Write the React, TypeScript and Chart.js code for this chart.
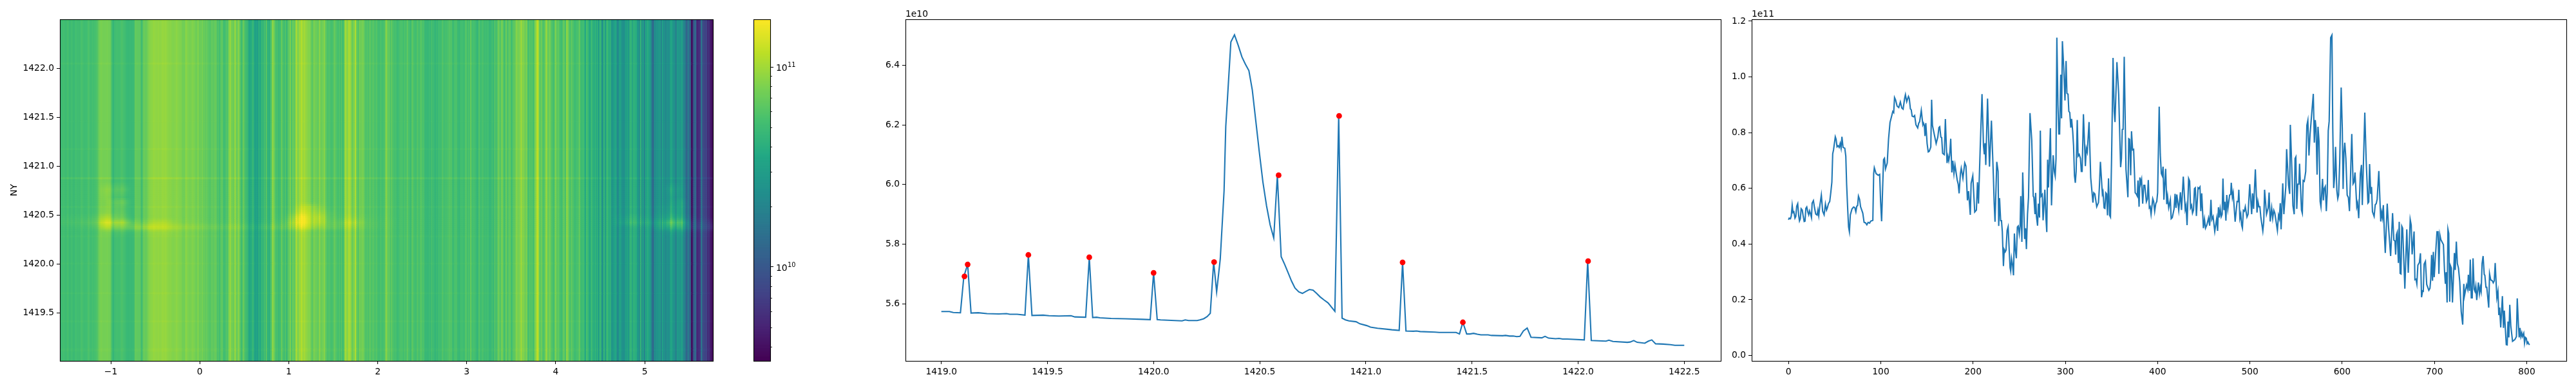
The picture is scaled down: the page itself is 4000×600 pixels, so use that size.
import React, { useEffect, useRef } from "react";
import { Chart, registerables } from "chart.js";

Chart.register(...registerables);

// Slice along the heatmap's columns: [column index, value in 1e11]
const columnProfile: number[][] = [
  [0,.487],[.7,.493],[2.1,.491],[3,.501],[4,.539],[4.9,.513],[5.8,.516],[7,.493],[7.9,.499],[8.9,.536],[10,.545],[11,.503],[11.9,.483],[12.8,.491],[13.7,.527],[14.9,.522],[15.8,.503],[17,.481],[17.9,.482],[18.8,.528],[19.8,.533],[21,.514],[21.9,.505],[22.8,.519],[24,.507],[24.9,.495],[25.6,.547],[27,.556],[28.2,.53],[29.5,.508],[31,.504],[31.9,.522],[32.8,.502],[34,.539],[35.6,.576],[37,.518],[38.6,.505],[40,.544],[41.2,.522],[42.1,.53],[43.3,.545],[44.7,.553],[45.8,.584],[47,.622],[47.9,.724],[48.8,.738],[50.7,.785],[51.6,.776],[52.6,.749],[53.7,.753],[54.9,.747],[56,.761],[57,.744],[57.9,.785],[59.1,.747],[61,.744],[62.1,.715],[63,.614],[64.2,.522],[65.1,.461],[66,.444],[67,.505],[68.8,.526],[70.5,.533],[71.9,.531],[73,.516],[74,.536],[74.9,.538],[75.8,.572],[77,.561],[78.1,.534],[80.5,.511],[81.9,.478],[83.5,.476],[84.9,.469],[86.3,.478],[87.9,.475],[89,.482],[91.4,.485],[92.3,.653],[93,.674],[94.9,.653],[97.2,.647],[98.8,.65],[99.8,.553],[100.9,.482],[102,.599],[103,.703],[104,.708],[105.1,.67],[107,.691],[108.4,.776],[110,.836],[111.9,.861],[113,.876],[114,.872],[114.9,.926],[116,.918],[117.7,.895],[119.5,.89],[121.2,.91],[122.8,.888],[124.2,.884],[125.8,.922],[126.7,.936],[128.1,.911],[130,.93],[130.9,.922],[132.1,.885],[133,.882],[134,.859],[135.6,.857],[136.7,.861],[138.1,.828],[140,.817],[141.1,.834],[142.1,.839],[143.9,.88],[145.6,.828],[146.3,.834],[147.2,.826],[147.9,.788],[148.8,.834],[150.2,.761],[151.4,.731],[152.5,.733],[154.2,.748],[155.1,.918],[156,.826],[158.3,.788],[160,.761],[161.8,.784],[163,.818],[163.9,.821],[165.1,.784],[166,.782],[167,.726],[168.8,.721],[170,.849],[171.1,.745],[171.8,.691],[172.8,.715],[173.7,.699],[174.6,.718],[175.8,.778],[177,.657],[178.1,.699],[179.3,.653],[180.4,.684],[182.8,.63],[183.9,.615],[184.9,.582],[186.3,.653],[187.2,.672],[189,.636],[191,.691],[192.3,.68],[193.9,.557],[195.1,.59],[197,.505],
  [197.9,.618],[199.7,.645],[201.8,.515],[203.6,.522],[204.8,.622],[205.9,.545],[207.6,.73],[209.7,.938],[211.3,.753],[212.2,.722],[212.9,.762],[213.8,.684],[215.7,.922],[217.8,.678],[219.9,.843],[222,.645],[222.9,.545],[223.8,.48],[225.7,.695],[227.1,.661],[227.8,.465],[228.7,.565],[229.9,.484],[230.8,.484],[231.7,.445],[232.9,.321],[233.8,.38],[234.8,.372],[235.7,.378],[236.9,.449],[238,.462],[239.2,.376],[240.1,.315],[240.8,.303],[241.7,.348],[242.9,.322],[243.8,.288],[244.8,.438],[245.7,.384],[246.9,.349],[248,.461],[249,.465],[250.1,.436],[251,.465],[251.7,.572],[252.9,.408],[253.8,.657],[255.9,.418],[256.9,.457],[257.8,.382],[259,.507],[260.1,.568],[261.7,.87],[263.6,.772],[265.2,.572],[265.9,.568],[267.1,.507],[267.8,.584],[268.7,.499],[269.9,.466],[270.8,.545],[272,.495],[272.9,.807],[273.8,.572],[275,.578],[275.9,.485],[277.8,.595],[279,.492],[279.9,.443],[280.8,.703],[281.7,.603],[283.8,.816],[285,.539],[286.8,.719],[288,.661],[289,.644],[289.9,.707],[290.8,1.141],[292,.899],[292.9,.795],[293.8,.795],[295,1.008],[295.9,.851],[296.8,1.128],[298.2,1.037],[299.6,.915],[300.8,1.057],[301.7,.941],[302.9,.938],[303.8,.876],[304.8,.872],[305.9,.818],[306.8,.849],[308,.803],[308.9,.753],[309.9,.645],[310.8,.62],[311.7,.661],[312.9,.845],[313.8,.716],[315,.722],[316.4,.707],[317.3,.661],[318.2,.661],[319.6,.866],[321.7,.68],[322.7,.744],[323.8,.73],[325.7,.838],[327.5,.638],[329.9,.549],[330.8,.584],[332,.58],[334,.534],[335.9,.549],[336.8,.599],[338,.695],[340.1,.58],[340.8,.588],[342,.53],[342.9,.528],[343.8,.584],[344.7,.58],[345.7,.503],[346.8,.636],[348,.503],[348.9,.497],[350.1,.707],[351.7,1.068],[352.9,.876],[353.8,.838],[355.9,1.053],[357.8,.938],[359.9,.676],[360.8,.707],[361.7,.811],[362.6,.812],[363.8,1.072],[365.7,.668],[367.8,.568],[368.7,.778],[369.6,.776],[370.8,.647],[371.7,.805],[372.9,.738],[374,.74],[375.7,.584],[376.8,.58],[378,.572],[378.7,.628],[379.9,.534],[380.8,.639],[381.5,.616],[382.6,.632],[383.8,.545],[385,.611],[386.1,.611],[387.8,.552],[388.9,.561],[389.9,.63],[391,.53],[391.9,.534],[392.9,.507],[394.7,.563],[395.7,.553],[396.8,.518],[398,.545],[399.1,.553],[400,.584],[401.7,.893],[402.9,.722],[404,.653],[405,.645],
  [405.9,.678],[406.8,.559],[408.7,.67],[409.9,.543],[410.8,.571],[412,.53],[413.8,.559],[414.7,.491],[415.9,.495],[417.8,.526],[418.9,.58],[419.9,.53],[420.8,.578],[422.9,.521],[424.7,.586],[425.9,.522],[427.8,.642],[429.9,.524],[430.8,.538],[431.9,.468],[433.6,.635],[434.7,.626],[435.7,.53],[436.8,.539],[437.8,.511],[438.9,.522],[439.9,.599],[440.8,.602],[442,.501],[443.8,.602],[444.7,.599],[445.9,.605],[446.8,.518],[447.8,.582],[449.6,.457],[450.8,.489],[451.9,.457],[453.3,.468],[455.2,.494],[456.4,.466],[457.8,.559],[458.7,.488],[460.1,.499],[461.9,.445],[464,.492],[465,.447],[465.9,.532],[466.8,.495],[467.8,.526],[468.9,.498],[469.9,.507],[470.8,.635],[471.9,.522],[472.9,.552],[474,.484],[474.9,.576],[476.1,.526],[478,.576],[479.2,.578],[479.8,.62],[481,.568],[481.9,.584],[484,.48],[486.1,.553],[487.3,.552],[488,.595],[489.1,.492],[490.1,.507],[491,.468],[491.9,.457],[492.9,.521],[494,.518],[495,.534],[496.8,.497],[498,.507],[499.8,.615],[501.9,.507],[502.9,.582],[504,.526],[505.9,.668],[507.7,.513],[508.7,.553],[509.8,.534],[510.8,.534],[511.9,.495],[514,.447],[515,.48],[515.9,.595],[518,.507],[519.8,.53],[520.8,.585],[522,.481],[523.6,.53],[524.7,.492],[525.9,.521],[527,.511],[529.8,.449],[531,.503],[531.9,.492],[532.9,.547],[533.8,.453],[535.6,.618],[536.8,.507],[538.9,.607],[539.8,.741],[541.9,.611],[543.1,.58],[543.8,.828],[545.4,.676],[546.6,.538],[548,.507],[548.9,.707],[549.8,.713],[550.8,.526],[551.9,.615],[553.1,.615],[553.8,.688],[555.9,.522],[556.8,.511],[557.7,.628],[558.9,.625],[560.5,.661],[561.7,.826],[562.8,.844],[564,.718],[565.2,.795],[568.7,.939],[569.8,.764],[570.8,.845],[571.7,.814],[572.8,.649],[573.8,.821],[574.9,.768],[576.1,.553],[577,.534],[578.7,.634],[579.6,.557],[580.5,.599],[581.7,.607],[582.8,.518],[583.8,.584],[584.9,.807],[585.9,.841],[587.5,1.141],[588.9,1.15],[589.8,.814],[590.8,.601],[591.9,.645],[592.8,.749],[594.2,.592],[595.2,.563],[596.1,.576],[597.3,.691],[598.9,.962],[600.1,.814],[601,.598],[601.9,.73],[602.8,.764],[604,.707],[605.4,.576],
  [606.7,.567],[607.9,.518],[610.4,.795],[611.8,.616],[612.8,.622],[613.9,.657],[615.8,.534],[616.7,.547],[617.9,.493],[619.7,.653],[620.9,.684],[621.8,.54],[624.5,.872],[626,.7],[627.9,.547],[628.8,.551],[629.7,.687],[630.9,.58],[631.8,.605],[632.8,.516],[634.6,.499],[635.8,.541],[636.9,.545],[637.9,.561],[639.7,.662],[641.8,.481],[642.8,.514],[643.7,.495],[644.6,.54],[645.8,.43],[646.7,.368],[648.8,.545],[650.4,.453],[652.5,.357],[654.6,.511],[656,.414],[657.2,.411],[657.9,.362],[658.8,.434],[659.7,.443],[660.9,.332],[661.8,.48],[662.8,.295],[663.7,.293],[664.6,.464],[665.5,.457],[667.9,.24],[670,.453],[671.6,.297],[673.7,.488],[674.8,.468],[675.8,.363],[677.9,.445],[678.8,.272],[680,.274],[680.9,.257],[682,.324],[683.7,.334],[684.8,.367],[686,.209],[687.2,.232],[687.9,.231],[688.8,.328],[690.2,.338],[691.6,.255],[693.9,.234],[695.1,.241],[696,.276],[696.9,.361],[697.9,.268],[698.8,.372],[699.7,.281],[702.7,.444],[703.9,.444],[704.8,.293],[705.8,.434],[706.9,.416],[709.7,.398],[710.9,.303],[711.8,.257],[712.7,.299],[713.7,.19],[714.6,.453],[715.5,.438],[716.5,.193],[717.4,.322],[718.3,.314],[719.5,.19],[721.6,.368],[722.5,.307],[723.7,.409],[724.8,.33],[726,.314],[727.4,.265],[729,.157],[730.6,.111],[731.8,.257],[732.5,.214],[734.8,.253],[736,.238],[736.7,.29],[737.9,.232],[738.8,.344],[739.9,.207],[740.9,.207],[741.8,.349],[743,.238],[743.9,.23],[744.8,.249],[745.8,.199],[747.6,.262],[748.8,.222],[749.7,.245],[750.6,.23],[751.6,.33],[752.7,.357],[753.9,.291],[754.6,.288],[755.8,.245],[756.7,.245],[758.8,.172],[759.7,.293],[760.9,.272],[762.7,.268],[763.7,.261],[764.8,.268],[765.8,.332],[767.6,.207],[768.8,.23],[769.7,.145],[770.6,.172],[771.8,.101],[773.6,.213],[774.8,.099],[775.7,.161],[777.8,.039],[778.8,.038],[779.7,.122],[780.6,.065],[781.6,.182],[782.7,.107],[784.6,.051],[787.1,.057],[788.8,.068],[789.7,.205],[790.9,.115],[791.8,.065],[792.7,.099],[793.6,.068],[794.6,.081],[795.3,.068],[796.7,.08],[797.6,.045],[798.5,.065],[799.5,.062],[800.4,.043],[801.3,.048],[802.3,.041],[803,.038],
];

// Slice along the heatmap's rows: [NY, value in 1e10]
const rowProfile: number[][] = [
  [1419,5.574],[1419.038,5.574],[1419.056,5.571],[1419.09,5.57],[1419.106,5.692],[1419.124,5.732],[1419.14,5.569],[1419.174,5.57],[1419.215,5.567],[1419.27,5.566],[1419.307,5.567],[1419.323,5.565],[1419.357,5.565],[1419.394,5.562],[1419.41,5.764],[1419.427,5.561],[1419.48,5.562],[1419.507,5.56],[1419.554,5.559],[1419.611,5.56],[1419.629,5.556],[1419.68,5.555],[1419.697,5.755],[1419.713,5.554],[1419.731,5.555],[1419.747,5.553],[1419.8,5.551],[1419.867,5.55],[1419.948,5.548],[1419.984,5.547],[1420,5.704],[1420.017,5.547],[1420.033,5.546],[1420.1,5.544],[1420.134,5.543],[1420.149,5.546],[1420.165,5.544],[1420.205,5.544],[1420.218,5.546],[1420.236,5.55],[1420.252,5.557],[1420.267,5.568],[1420.283,5.74],[1420.297,5.64],[1420.314,5.75],[1420.332,5.979],[1420.34,6.195],[1420.348,6.288],[1420.364,6.478],[1420.381,6.502],[1420.398,6.468],[1420.416,6.428],[1420.432,6.404],[1420.449,6.382],[1420.465,6.317],[1420.481,6.216],[1420.498,6.109],[1420.515,6.008],[1420.532,5.929],[1420.549,5.865],[1420.566,5.821],[1420.583,6.03],[1420.601,5.758],[1420.617,5.733],[1420.634,5.704],[1420.65,5.676],[1420.666,5.653],[1420.684,5.64],[1420.701,5.635],[1420.718,5.642],[1420.734,5.648],[1420.751,5.646],[1420.768,5.635],[1420.785,5.623],[1420.803,5.613],[1420.822,5.603],[1420.854,5.575],[1420.872,6.23],[1420.888,5.552],[1420.904,5.546],[1420.92,5.543],[1420.954,5.54],[1420.972,5.533],[1421.004,5.527],[1421.022,5.522],[1421.055,5.518],[1421.11,5.514],[1421.123,5.513],[1421.157,5.511],[1421.173,5.739],[1421.189,5.509],[1421.224,5.508],[1421.239,5.509],[1421.256,5.507],[1421.326,5.505],[1421.346,5.504],[1421.425,5.504],[1421.441,5.499],[1421.457,5.538],[1421.475,5.499],[1421.491,5.499],[1421.507,5.501],[1421.525,5.498],[1421.542,5.496],[1421.576,5.496],[1421.592,5.494],[1421.644,5.493],[1421.658,5.494],[1421.677,5.492],[1421.694,5.492],[1421.711,5.49],[1421.726,5.491],[1421.742,5.509],[1421.76,5.519],[1421.778,5.488],[1421.829,5.486],[1421.844,5.491],[1421.861,5.485],[1421.894,5.483],[1421.91,5.484],[1421.927,5.482],[1421.948,5.482],[1422.029,5.479],[1422.045,5.743],[1422.062,5.477],[1422.131,5.475],[1422.145,5.478],[1422.164,5.474],[1422.232,5.471],[1422.245,5.472],[1422.262,5.477],[1422.278,5.471],[1422.314,5.468],[1422.331,5.475],[1422.347,5.479],[1422.365,5.466],[1422.401,5.465],[1422.435,5.463],[1422.456,5.461],[1422.5,5.461],
];

// Detected peaks on the row slice (the red dots)
const rowPeaks: number[][] = [
  [1419.109,5.692],[1419.124,5.732],[1419.41,5.764],[1419.697,5.756],[1420,5.704],[1420.285,5.74],[1420.589,6.031],[1420.874,6.23],[1421.173,5.739],[1421.457,5.538],[1422.047,5.743],
];

// Heatmap: thin horizontal lines, as a brightness ratio against the column slice
const rowLineY = [1419.109, 1419.124, 1419.41, 1419.697, 1420, 1420.285, 1420.589, 1420.874, 1421.173, 1421.457, 1422.047];
const rowLineGain = [1.022, 1.029, 1.037, 1.036, 1.028, 1.03, 1.04, 1.12, 1.04, 1.007, 1.048];

// Heatmap row boundaries (NY)
const rowEdges = [
  1419.01, 1419.1, 1419.135, 1419.4, 1419.42, 1419.687, 1419.707, 1419.99, 1420.01, 1420.25,
  1420.27, 1420.29, 1420.31, 1420.33, 1420.35, 1420.37, 1420.39, 1420.41, 1420.43, 1420.45,
  1420.47, 1420.49, 1420.51, 1420.53, 1420.55, 1420.57, 1420.59, 1420.61, 1420.63, 1420.65,
  1420.67, 1420.69, 1420.71, 1420.73, 1420.75, 1420.77, 1420.79, 1420.81, 1420.83, 1420.85,
  1420.864, 1420.884, 1421.163, 1421.183, 1421.447, 1421.467, 1422.037, 1422.057, 1422.505,
];

// Heatmap: blobs round NY 1420.4, brightness ratios read at these knots
const blobX = [-1.57,-1.25,-1.15,-1.05,-.95,-.85,-.75,-.65,-.55,-.45,-.35,-.25,-.1,.3,.8,.95,1.05,1.15,1.25,1.35,1.45,1.55,1.7,1.9,2.3,4.6,4.85,5.05,5.2,5.3,5.42,5.52,5.765];
const blobY = [1420.28,1420.33,1420.37,1420.42,1420.47,1420.52,1420.58,1420.63,1420.68,1420.76,1420.84];
const blobGain = [
  [1,1,1,1,1,1,1,1,1,1,1,1,1,1,1,1,1,1,1,1,1,1,1,1,1,1,1,1,1,1,1,1,1],
  [1,1,1,1.08,1.1,1.1,1.05,1.05,1.05,1.05,1.05,1.03,1,1,1,1,1.02,1.05,1.02,1,1,1,1,1,1,1,1,1,1.05,1.12,1.12,1.05,1.05],
  [1,1.05,1.1,1.45,1.5,1.5,1.4,1.4,1.4,1.35,1.3,1.2,1.15,1.12,1.15,1.2,1.35,1.45,1.35,1.2,1.2,1.15,1.15,1.05,1,1,1,1.05,1.35,1.6,1.6,1.25,1.3],
  [1.05,1.12,1.25,1.8,1.9,1.85,1.25,1.15,1.15,1.2,1.15,1.05,1.03,1.02,1.03,1.1,1.5,1.8,1.5,1.45,1.2,1.15,1.3,1.05,1,1,1.25,1.2,1.5,2.2,2,1.2,1.15],
  [1.02,1.05,1.12,1.4,1.4,1.3,1.02,1,1,1,1,1,1,1,1,1.03,1.3,1.75,1.5,1.5,1.15,1.05,1.1,1.02,1,1,1.1,1.05,1.2,1.5,1.4,1.05,1],
  [1,1,1.02,1.15,1.25,1.2,1,1,1,1,1,1,1,1,1,1,1.1,1.4,1.4,1.3,1.1,1.02,1.02,1,1,1,1,1,1.1,1.3,1.25,1,1],
  [1,1,1,1.08,1.2,1.15,1,1,1,1,1,1,1,1,1,1,1,1.15,1.25,1.1,1,1,1,1,1,1,1,1,1.05,1.2,1.25,1,1],
  [1,1,1,1.08,1.28,1.3,1,1,1,1,1,1,1,1,1,1,1,1,1,1,1,1,1,1,1,1,1,1,1.02,1.15,1.25,1,1],
  [1,1,1,1.1,1.08,1.04,1,1,1,1,1,1,1,1,1,1,1,1,1,1,1,1,1,1,1,1,1,1,1,1.1,1.05,1,1],
  [1,1,1,1.15,1.18,1.18,1,1,1,1,1,1,1,1,1,1,1,1,1,1,1,1,1,1,1,1,1,1,1,1.22,1.08,1,1],
  [1,1,1,1,1,1,1,1,1,1,1,1,1,1,1,1,1,1,1,1,1,1,1,1,1,1,1,1,1,1,1,1,1],
];

// Axis limits and tick labels
const heatXLimits = [-1.572, 5.766];
const heatYLimits = [1419.01, 1422.505];
const heatXTicks = [-1, 0, 1, 2, 3, 4, 5];
const heatYTicks = [1419.5, 1420, 1420.5, 1421, 1421.5, 1422];
const colorLimits = [3.39e9, 1.73e11];
const colorMajorTicks = [1e10, 1e11];
const colorMinorTicks = [4e9, 5e9, 6e9, 7e9, 8e9, 9e9, 2e10, 3e10, 4e10, 5e10, 6e10, 7e10, 8e10, 9e10];
const rowXLimits = [1418.831, 1422.672];
const rowYLimits = [5.4086, 6.554];
const rowXTicks = [1419, 1419.5, 1420, 1420.5, 1421, 1421.5, 1422, 1422.5];
const rowYTicks = [5.6, 5.8, 6, 6.2, 6.4];
const colXLimits = [-39.9, 842.9];
const colYLimits = [-0.0194, 1.2067];
const colXTicks = [0, 100, 200, 300, 400, 500, 600, 700, 800];
const colYTicks = [0, 0.2, 0.4, 0.6, 0.8, 1, 1.2];

const viridisStops = [
  [68, 1, 84], [72, 36, 117], [65, 68, 135], [53, 95, 141], [42, 120, 142], [33, 145, 140],
  [34, 168, 132], [68, 191, 112], [122, 209, 81], [189, 223, 38], [253, 231, 37],
];
const LINE_BLUE = "#1f77b4";
const FONT = { family: "'DejaVu Sans'", size: 13.89 };
const TOP = 30;
const BOTTOM_SPACE = 39;

function viridis(t: number) {
  const c = Math.min(1, Math.max(0, t)) * (viridisStops.length - 1);
  const i = Math.min(viridisStops.length - 2, Math.floor(c));
  const f = c - i;
  const a = viridisStops[i];
  const b = viridisStops[i + 1];
  return `rgb(${[0, 1, 2].map((k) => Math.round(a[k] + (b[k] - a[k]) * f)).join(",")})`;
}
const logMin = Math.log10(colorLimits[0]);
const logMax = Math.log10(colorLimits[1]);
const colorFor = (v: number) => viridis((Math.log10(v) - logMin) / (logMax - logMin));

function bracket(list: number[], v: number) {
  if (v <= list[0]) return [0, 0, 0];
  if (v >= list[list.length - 1]) return [list.length - 1, list.length - 1, 0];
  let i = 0;
  while (list[i + 1] < v) i++;
  return [i, i + 1, (v - list[i]) / (list[i + 1] - list[i])];
}
function blobAt(x: number, y: number) {
  const [i0, i1, fy] = bracket(blobY, y);
  const [j0, j1, fx] = bracket(blobX, x);
  const g = (r: number) => blobGain[r][j0] + (blobGain[r][j1] - blobGain[r][j0]) * fx;
  return g(i0) + (g(i1) - g(i0)) * fy;
}
const heatX = (i: number) => heatXLimits[0] + ((i + 0.5) * (heatXLimits[1] - heatXLimits[0])) / 804;

function heatDatasets() {
  const out: any[] = [];
  for (let r = 0; r < rowEdges.length - 1; r++) {
    const y0 = rowEdges[r];
    const y1 = rowEdges[r + 1];
    const yc = (y0 + y1) / 2;
    let lineGain = 1;
    rowLineY.forEach((ly, k) => {
      if (y1 - y0 < 0.04 && ly >= y0 && ly <= y1) lineGain = rowLineGain[k];
    });
    const data = columnProfile.map(([i]) => ({ x: heatX(i), y: [y0, y1] }));
    const colors = columnProfile.map(([i, v]) => colorFor(v * 1e11 * lineGain * blobAt(heatX(i), yc)));
    out.push({
      type: "bar",
      data,
      backgroundColor: colors,
      borderWidth: 0,
      barThickness: "flex",
      categoryPercentage: 1,
      barPercentage: 1,
      stack: "heat",
      inflateAmount: 0.6,
    });
  }
  return out;
}

const framePlugin = {
  id: "frame",
  afterDraw(chart: any) {
    const { ctx, chartArea: a } = chart;
    ctx.save();
    ctx.strokeStyle = "#000";
    ctx.lineWidth = 1.1;
    ctx.strokeRect(Math.round(a.left) + 0.5, Math.round(a.top) + 0.5, Math.round(a.right - a.left), Math.round(a.bottom - a.top));
    ctx.restore();
  },
};
const offsetText = (text: string) => ({
  id: "offsetText",
  afterDraw(chart: any) {
    const { ctx, chartArea: a } = chart;
    ctx.save();
    ctx.font = `${FONT.size}px ${FONT.family}`;
    ctx.fillStyle = "#000";
    ctx.textAlign = "left";
    ctx.textBaseline = "alphabetic";
    ctx.fillText(text, a.left, a.top - 4);
    ctx.restore();
  },
});
// Minor ticks and power-of-ten labels of the colour bar
const colorAxisPlugin = {
  id: "colorAxis",
  afterDraw(chart: any) {
    const { ctx, chartArea: a, scales } = chart;
    ctx.save();
    ctx.strokeStyle = "#000";
    ctx.fillStyle = "#000";
    ctx.lineWidth = 0.8;
    colorMinorTicks.forEach((v) => {
      const p = Math.round(scales.y.getPixelForValue(v)) + 0.5;
      ctx.beginPath();
      ctx.moveTo(a.right, p);
      ctx.lineTo(a.right + 3, p);
      ctx.stroke();
    });
    ctx.textAlign = "left";
    ctx.textBaseline = "alphabetic";
    colorMajorTicks.forEach((v) => {
      const p = scales.y.getPixelForValue(v);
      const x = a.right + 9;
      ctx.font = `${FONT.size}px ${FONT.family}`;
      ctx.fillText("10", x, p + 6);
      ctx.font = `${FONT.size * 0.7}px ${FONT.family}`;
      ctx.fillText(String(Math.round(Math.log10(v))), x + 18, p);
    });
    ctx.restore();
  },
};

function axis(limits: number[], ticks: number[], fmt: (v: number) => string, size: (s: any) => void, extra: any = {}) {
  return {
    type: "linear",
    min: limits[0],
    max: limits[1],
    offset: false,
    afterBuildTicks: (s: any) => {
      s.ticks = ticks.map((value) => ({ value }));
    },
    afterFit: size,
    grid: { display: true, offset: false, drawOnChartArea: false, drawTicks: true, tickLength: 5, tickColor: "#000", tickWidth: 1 },
    border: { display: true, color: "#000", width: 1 },
    ticks: {
      autoSkip: false,
      maxRotation: 0,
      minRotation: 0,
      padding: 4,
      color: "#000",
      font: FONT,
      callback: (v: any) => fmt(Number(v)),
    },
    ...extra,
  };
}
const oneDecimal = (v: number) => v.toFixed(1);
const integer = (v: number) => String(v).replace("-", "\u2212");
const setHeight = (s: any) => {
  s.height = BOTTOM_SPACE;
};
const setWidth = (w: number) => (s: any) => {
  s.width = w;
};
const baseOptions = {
  responsive: false,
  animation: false,
  devicePixelRatio: 1,
  events: [],
  plugins: { legend: { display: false }, tooltip: { enabled: false }, title: { display: false } },
};

function heatConfig() {
  return {
    type: "bar",
    data: { datasets: heatDatasets() },
    options: {
      ...baseOptions,
      layout: { autoPadding: false, padding: { top: TOP, right: 23, left: 0, bottom: 0 } },
      scales: {
        x: axis(heatXLimits, heatXTicks, integer, setHeight),
        y: axis(heatYLimits, heatYTicks, oneDecimal, setWidth(93), {
          beginAtZero: false,
          stacked: false,
          title: { display: true, text: "NY", color: "#000", font: FONT, padding: { top: 13.7, bottom: 0 } },
        }),
      },
    },
    plugins: [framePlugin],
  };
}

function colorbarConfig() {
  const levels = 220;
  const datasets: any[] = [];
  for (let k = 0; k < levels; k++) {
    const lo = Math.pow(10, logMin + ((logMax - logMin) * k) / levels);
    const hi = Math.pow(10, logMin + ((logMax - logMin) * (k + 1)) / levels);
    datasets.push({
      data: [[lo, hi]],
      backgroundColor: viridis((k + 0.5) / levels),
      borderWidth: 0,
      categoryPercentage: 1,
      barPercentage: 1,
      grouped: false,
      inflateAmount: 0.6,
    });
  }
  return {
    type: "bar",
    data: { labels: [""], datasets },
    options: {
      ...baseOptions,
      layout: { autoPadding: false, padding: { top: TOP, right: 10, left: 70, bottom: BOTTOM_SPACE } },
      scales: {
        x: { display: false, offset: true },
        y: {
          type: "logarithmic",
          position: "right",
          min: colorLimits[0],
          max: colorLimits[1],
          afterBuildTicks: (s: any) => {
            s.ticks = colorMajorTicks.map((value) => ({ value }));
          },
          afterFit: setWidth(74),
          grid: { display: true, drawOnChartArea: false, drawTicks: true, tickLength: 5, tickColor: "#000", tickWidth: 1 },
          border: { display: true, color: "#000", width: 1 },
          ticks: { autoSkip: false, padding: 4, color: "#000", font: FONT, callback: () => "" },
        },
      },
    },
    plugins: [framePlugin, colorAxisPlugin],
  };
}

function rowConfig() {
  return {
    type: "line",
    data: {
      datasets: [
        {
          data: rowPeaks.map(([x, y]) => ({ x, y })),
          showLine: false,
          pointRadius: 4.4,
          pointBackgroundColor: "#ff0000",
          pointBorderWidth: 0,
        },
        {
          data: rowProfile.map(([x, y]) => ({ x, y })),
          borderColor: LINE_BLUE,
          borderWidth: 2.1,
          pointRadius: 0,
          tension: 0,
          fill: false,
        },
      ],
    },
    options: {
      ...baseOptions,
      layout: { autoPadding: false, padding: { top: TOP, right: 8, left: 0, bottom: 0 } },
      scales: {
        x: axis(rowXLimits, rowXTicks, oneDecimal, setHeight),
        y: axis(rowYLimits, rowYTicks, oneDecimal, setWidth(106)),
      },
    },
    plugins: [framePlugin, offsetText("1e10")],
  };
}

function columnConfig() {
  return {
    type: "line",
    data: {
      datasets: [
        {
          data: columnProfile.map(([x, y]) => ({ x, y })),
          borderColor: LINE_BLUE,
          borderWidth: 2.1,
          pointRadius: 0,
          tension: 0,
          fill: false,
        },
      ],
    },
    options: {
      ...baseOptions,
      layout: { autoPadding: false, padding: { top: TOP, right: 15, left: 0, bottom: 0 } },
      scales: {
        x: axis(colXLimits, colXTicks, integer, setHeight),
        y: axis(colYLimits, colYTicks, oneDecimal, setWidth(40)),
      },
    },
    plugins: [framePlugin, offsetText("1e11")],
  };
}

function Panel({ left, width, config }: { left: number; width: number; config: () => any }) {
  const ref = useRef<HTMLCanvasElement | null>(null);
  useEffect(() => {
    if (!ref.current) return;
    const chart = new Chart(ref.current, config());
    return () => chart.destroy();
  }, [config]);
  return (
    <canvas
      ref={ref}
      width={width}
      height={600}
      style={{ position: "absolute", left, top: 0, width, height: 600, display: "block" }}
    />
  );
}

export default function App() {
  return (
    <div style={{ position: "fixed", left: 0, top: 0, width: 4000, height: 600, background: "#fff", overflow: "hidden" }}>
      <Panel left={0} width={1130} config={heatConfig} />
      <Panel left={1100} width={180} config={colorbarConfig} />
      <Panel left={1300} width={1380} config={rowConfig} />
      <Panel left={2680} width={1320} config={columnConfig} />
    </div>
  );
}
